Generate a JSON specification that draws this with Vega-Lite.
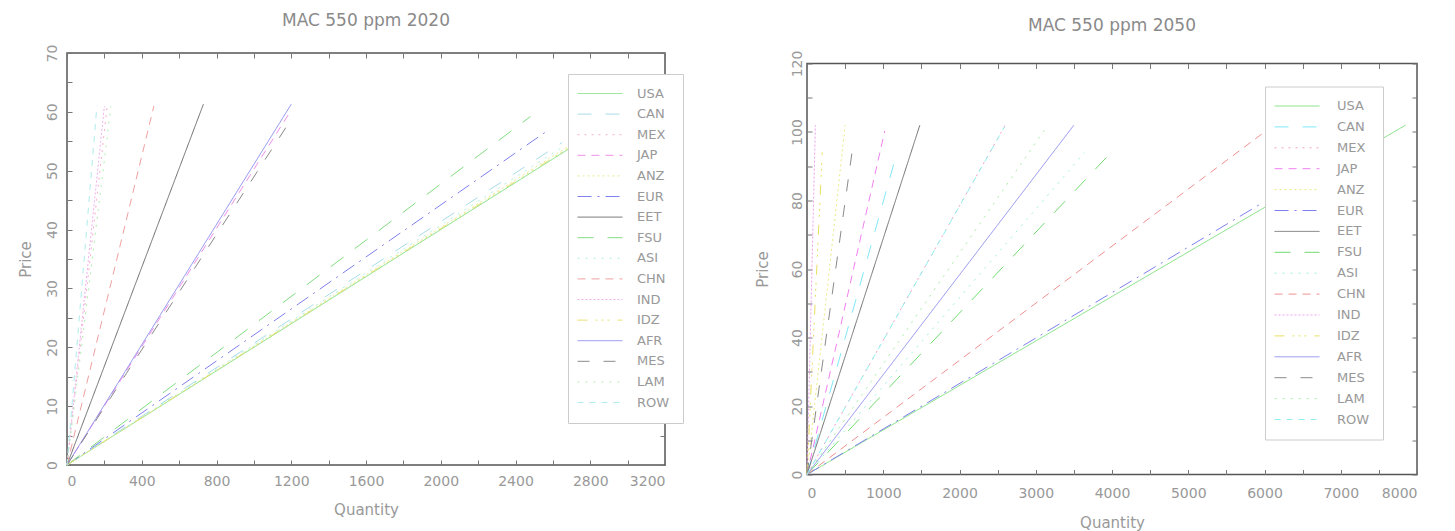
{
  "$schema": "https://vega.github.io/schema/vega-lite/v6.json",
  "autosize": {"type": "pad"},
  "padding": {"left": 17, "top": 10, "right": 0, "bottom": 0},
  "background": "white",
  "spacing": 69,
  "datasets": {
    "y2020": [
      {"region": "USA", "q": 0, "p": 0}, {"region": "USA", "q": 2900, "p": 58},
      {"region": "CAN", "q": 0, "p": 0}, {"region": "CAN", "q": 2650, "p": 54.8},
      {"region": "MEX", "q": 0, "p": 0}, {"region": "MEX", "q": 215, "p": 61},
      {"region": "JAP", "q": 0, "p": 0}, {"region": "JAP", "q": 1190, "p": 59.8},
      {"region": "ANZ", "q": 0, "p": 0}, {"region": "ANZ", "q": 2700, "p": 54.5},
      {"region": "EUR", "q": 0, "p": 0}, {"region": "EUR", "q": 2580, "p": 57},
      {"region": "EET", "q": 0, "p": 0}, {"region": "EET", "q": 730, "p": 61.3},
      {"region": "FSU", "q": 0, "p": 0}, {"region": "FSU", "q": 2480, "p": 59.2},
      {"region": "ASI", "q": 0, "p": 0}, {"region": "ASI", "q": 2650, "p": 54},
      {"region": "CHN", "q": 0, "p": 0}, {"region": "CHN", "q": 465, "p": 61},
      {"region": "IND", "q": 0, "p": 0}, {"region": "IND", "q": 200, "p": 61},
      {"region": "IDZ", "q": 0, "p": 0}, {"region": "IDZ", "q": 2700, "p": 54.2},
      {"region": "AFR", "q": 0, "p": 0}, {"region": "AFR", "q": 1200, "p": 61.3},
      {"region": "MES", "q": 0, "p": 0}, {"region": "MES", "q": 1195, "p": 58.5},
      {"region": "LAM", "q": 0, "p": 0}, {"region": "LAM", "q": 235, "p": 60.9},
      {"region": "ROW", "q": 0, "p": 0}, {"region": "ROW", "q": 160, "p": 61}
    ],
    "y2050": [
      {"region": "USA", "q": 0, "p": 0}, {"region": "USA", "q": 7850, "p": 102},
      {"region": "CAN", "q": 0, "p": 0}, {"region": "CAN", "q": 1180, "p": 94},
      {"region": "MEX", "q": 0, "p": 0}, {"region": "MEX", "q": 2600, "p": 102},
      {"region": "JAP", "q": 0, "p": 0}, {"region": "JAP", "q": 1020, "p": 100.3},
      {"region": "ANZ", "q": 0, "p": 0}, {"region": "ANZ", "q": 500, "p": 102},
      {"region": "EUR", "q": 0, "p": 0}, {"region": "EUR", "q": 5950, "p": 79},
      {"region": "EET", "q": 0, "p": 0}, {"region": "EET", "q": 1480, "p": 102},
      {"region": "FSU", "q": 0, "p": 0}, {"region": "FSU", "q": 4000, "p": 94.3},
      {"region": "ASI", "q": 0, "p": 0}, {"region": "ASI", "q": 3640, "p": 94},
      {"region": "CHN", "q": 0, "p": 0}, {"region": "CHN", "q": 6000, "p": 100},
      {"region": "IND", "q": 0, "p": 0}, {"region": "IND", "q": 110, "p": 102},
      {"region": "IDZ", "q": 0, "p": 0}, {"region": "IDZ", "q": 200, "p": 94},
      {"region": "AFR", "q": 0, "p": 0}, {"region": "AFR", "q": 3500, "p": 102},
      {"region": "MES", "q": 0, "p": 0}, {"region": "MES", "q": 590, "p": 94},
      {"region": "LAM", "q": 0, "p": 0}, {"region": "LAM", "q": 3145, "p": 101.6},
      {"region": "ROW", "q": 0, "p": 0}, {"region": "ROW", "q": 2590, "p": 101.5}
    ]
  },
  "config": {
    "view": {"stroke": "#555555", "strokeWidth": 1.5},
    "font": "DejaVu Sans",
    "axis": {
      "grid": false, "domain": false, "tickColor": "#777777", "tickSize": -5,
      "labelColor": "#999999", "labelFontSize": 14, "labelFont": "DejaVu Sans",
      "titleColor": "#999999", "titleFontSize": 15, "titleFontWeight": "normal", "titleFont": "DejaVu Sans",
      "labelOverlap": false, "format": "d"
    },
    "title": {"color": "#8a8a8a", "fontSize": 17, "fontWeight": "normal", "font": "DejaVu Sans"},
    "legend": {
      "labelColor": "#999999", "labelFontSize": 13, "labelFont": "DejaVu Sans",
      "strokeColor": "#cccccc", "fillColor": "white",
      "symbolType": "M-2,0H7", "symbolSize": 100, "symbolStrokeWidth": 1
    }
  },
  "resolve": {
    "scale": {"color": "independent", "strokeDash": "independent"},
    "legend": {"color": "independent", "strokeDash": "independent"}
  },
  "hconcat": [
    {
      "width": 598, "height": 412,
      "title": {"text": "MAC 550 ppm 2020", "offset": 14.5},
      "data": {"name": "y2020"},
      "resolve": {"axis": {"x": "independent", "y": "independent"}},
      "layer": [
        {
          "mark": {"type": "line", "strokeWidth": 1},
          "encoding": {
            "x": {"field": "q", "type": "quantitative", "scale": {"domain": [0, 3200], "nice": false},
              "axis": {"title": "Quantity", "values": [0,200,400,600,800,1000,1200,1400,1600,1800,2000,2200,2400,2600,2800,3000,3200],
                "labelExpr": "datum.value % 400 === 0 ? datum.label : ''", "labelPadding": 14, "titlePadding": 14}},
            "y": {"field": "p", "type": "quantitative", "scale": {"domain": [0, 70], "nice": false},
              "axis": {"title": "Price", "values": [0,5,10,15,20,25,30,35,40,45,50,55,60,65,70],
                "labelExpr": "datum.value % 10 === 0 ? datum.label : ''", "labelAngle": 270, "labelAlign": "center", "labelBaseline": "bottom",
                "labelPadding": 13, "titlePadding": 12}},
            "color": {"field": "region", "type": "nominal",
              "scale": {"domain": ["USA","CAN","MEX","JAP","ANZ","EUR","EET","FSU","ASI","CHN","IND","IDZ","AFR","MES","LAM","ROW"],
                "range": ["#7fe07f","#a8dce8","#f4b0cc","#f090e8","#eaea90","#8080ee","#6a6a6a","#80dd80","#b0f0e0","#f0a0a0","#f0b0f0","#e8e070","#8c8cf0","#8a8a8a","#b0f0b0","#b0ecec"]},
              "legend": {"title": null, "orient": "none", "legendX": 501, "legendY": 21, "labelOffset": 43, "padding": 13, "rowPadding": 6.6}},
            "strokeDash": {"field": "region", "type": "nominal",
              "scale": {"domain": ["USA","CAN","MEX","JAP","ANZ","EUR","EET","FSU","ASI","CHN","IND","IDZ","AFR","MES","LAM","ROW"],
                "range": [[1,0],[14,14],[2,5],[8,6],[2,3],[14,6,2,6],[1,0],[16,14],[2,6],[8,6],[2,2],[10,8,2,4,2,4,2,8],[1,0],[12,14],[2,6],[6,6]]},
              "legend": {"title": null, "orient": "none", "legendX": 501, "legendY": 21, "labelOffset": 43, "padding": 13, "rowPadding": 6.6}}
          }
        },
        {
          "mark": {"type": "line", "opacity": 0},
          "encoding": {
            "x": {"field": "q", "type": "quantitative", "scale": {"domain": [0, 3200], "nice": false},
              "axis": {"orient": "top", "labels": false, "title": null, "values": [0,200,400,600,800,1000,1200,1400,1600,1800,2000,2200,2400,2600,2800,3000,3200]}},
            "y": {"field": "p", "type": "quantitative", "scale": {"domain": [0, 70], "nice": false},
              "axis": {"orient": "right", "labels": false, "title": null, "values": [0,5,10,15,20,25,30,35,40,45,50,55,60,65,70]}},
            "detail": {"field": "region", "type": "nominal"}
          }
        }
      ]
    },
    {
      "bounds": "flush",
      "spacing": 9.5,
      "vconcat": [
        {
          "width": 610, "height": 1,
          "title": {"text": "MAC 550 ppm 2050", "offset": 15.5},
          "view": {"stroke": null},
          "data": {"values": [{"v": 0}]},
          "mark": {"type": "point", "opacity": 0}
        },
        {
          "width": 610, "height": 411,
          "data": {"name": "y2050"},
          "resolve": {"axis": {"x": "independent", "y": "independent"}},
          "layer": [
            {
              "mark": {"type": "line", "strokeWidth": 1},
              "encoding": {
                "x": {"field": "q", "type": "quantitative", "scale": {"domain": [0, 8000], "nice": false},
                  "axis": {"title": "Quantity", "values": [0,500,1000,1500,2000,2500,3000,3500,4000,4500,5000,5500,6000,6500,7000,7500,8000],
                    "labelExpr": "datum.value % 1000 === 0 ? datum.label : ''", "labelPadding": 17, "titlePadding": 15}},
                "y": {"field": "p", "type": "quantitative", "scale": {"domain": [0, 120], "nice": false},
                  "axis": {"title": "Price", "values": [0,10,20,30,40,50,60,70,80,90,100,110,120],
                    "labelExpr": "datum.value % 20 === 0 ? datum.label : ''", "labelAngle": 270, "labelAlign": "center", "labelBaseline": "bottom",
                    "labelPadding": 8, "titlePadding": 20}},
                "color": {"field": "region", "type": "nominal",
                  "scale": {"domain": ["USA","CAN","MEX","JAP","ANZ","EUR","EET","FSU","ASI","CHN","IND","IDZ","AFR","MES","LAM","ROW"],
                    "range": ["#7fe07f","#80e8f8","#f4a0c8","#f080f0","#eaea80","#7f7ff0","#707070","#70dd70","#a0f0e0","#f09090","#f0a0f0","#e8e060","#9090f0","#8a8a8a","#a8f0a8","#90f0f0"]},
                  "legend": {"title": null, "orient": "none", "legendX": 458, "legendY": 33.5, "labelOffset": 46, "padding": 13, "rowPadding": 6.9}},
                "strokeDash": {"field": "region", "type": "nominal",
                  "scale": {"domain": ["USA","CAN","MEX","JAP","ANZ","EUR","EET","FSU","ASI","CHN","IND","IDZ","AFR","MES","LAM","ROW"],
                    "range": [[1,0],[14,14],[2,5],[8,6],[2,3],[14,6,2,6],[1,0],[16,14],[2,6],[8,6],[2,2],[10,8,2,4,2,4,2,8],[1,0],[12,14],[2,6],[6,6]]},
                  "legend": {"title": null, "orient": "none", "legendX": 458, "legendY": 33.5, "labelOffset": 46, "padding": 13, "rowPadding": 6.9}}
              }
            },
            {
              "mark": {"type": "line", "opacity": 0},
              "encoding": {
                "x": {"field": "q", "type": "quantitative", "scale": {"domain": [0, 8000], "nice": false},
                  "axis": {"orient": "top", "labels": false, "title": null, "values": [0,500,1000,1500,2000,2500,3000,3500,4000,4500,5000,5500,6000,6500,7000,7500,8000]}},
                "y": {"field": "p", "type": "quantitative", "scale": {"domain": [0, 120], "nice": false},
                  "axis": {"orient": "right", "labels": false, "title": null, "values": [0,10,20,30,40,50,60,70,80,90,100,110,120]}},
                "detail": {"field": "region", "type": "nominal"}
              }
            }
          ]
        }
      ]
    }
  ]
}
